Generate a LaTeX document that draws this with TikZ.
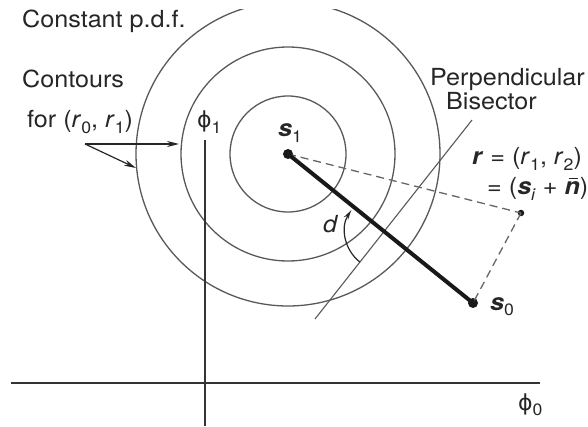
\documentclass[tikz,border=0pt]{standalone}
\usepackage{fontspec}
\setmainfont{TeX Gyre Heros}[FakeStretch=1.07]
\newfontfamily\phifont{DejaVu Sans}
\usetikzlibrary{arrows.meta,calc}
\newcommand\lsub[1]{\raisebox{-0.25em}{\fontsize{16.5}{16.5}\selectfont #1}}
\newcommand\nbar{\makebox[0pt][l]{\hspace{0.17em}\raisebox{0.66em}{\rule{0.42em}{1.3pt}}}\textbf{\textit{n}}}
\newcommand\myphi{{\phifont\fontsize{22}{22}\selectfont ϕ}}
\begin{document}
\begin{tikzpicture}[x=1pt,y=1pt,
  lbl/.style={anchor=base west,inner sep=0pt,text=black!85,font=\fontsize{23.5}{25}\selectfont},
  contour/.style={draw=black!65,line width=1.3pt},
  axis/.style={draw=black!80,line width=2pt},
  dashline/.style={draw=black!60,line width=1.3pt,dash pattern=on 8pt off 5pt},
  ptr/.style={draw=black!85,line width=1.2pt,-{Stealth[length=12pt,width=6pt]}},
  dotbig/.style={circle,fill=black!90,inner sep=0pt,minimum size=10pt},
  dotsmall/.style={circle,fill=black!90,inner sep=0pt,minimum size=6.5pt}]
\useasboundingbox (0,0) rectangle (588,426);
\fill[white] (0,0) rectangle (588,426);
% coordinates
\coordinate (c) at (288,272);
\coordinate (x0) at (11,43);
\coordinate (x1) at (540,43);
\coordinate (y0) at (205,0);
\coordinate (y1) at (205,286);
\coordinate (b0) at (472,306);
\coordinate (b1) at (315,107);
\coordinate (m) at (384,194.6);
\coordinate (fs) at (85,282);
\coordinate (fe1) at (179,282);
\coordinate (fe2) at (136,258);
% contours
\begin{scope}
\clip (0,0) rectangle (588,416);
\draw[contour] (c) circle[radius=58];
\draw[contour] (c) circle[radius=107];
\draw[contour] (c) circle[radius=152];
\end{scope}
% axes
\draw[axis] (x0) -- (x1);
\draw[axis] (y0) -- (y1);
% bisector
\draw[contour,line width=1.1pt] (b0) -- (b1);
% points
\node[dotbig] (s1) at (288,272) {};
\node[dotbig] (s0) at (473,123) {};
\node[dotsmall] (r) at (521,213) {};
\draw[dashline] (s1.center) -- (r.center);
\draw[dashline] (r.center) -- (s0.center);
\draw[black!90,line width=4pt] (s1.center) -- (s0.center);
% angle arc
\draw[draw=black!85,line width=1.2pt,-{Stealth[length=10pt,width=5pt]}] ($(m)+(232:39)$) arc[start angle=232,end angle=147,radius=39];
% pointer arrows
\draw[ptr] (fs) -- (fe1);
\draw[ptr] (fs) -- (fe2);
% labels
\node[lbl] (t1) at (22,398) {Constant p.d.f.};
\node[lbl] (t2) at (22,338) {Contours};
\node[lbl] (t3) at (27,298) {for (\textit{r}\lsub{0}, \textit{r}\lsub{1})};
\node[lbl] (phi1) at (197,298) {\myphi\lsub{1}};
\node[lbl] (ls1) at (278,289) {\textbf{\textit{s}}\lsub{1}};
\node[lbl] (pb1) at (430,340) {Perpendicular};
\node[lbl] (pb2) at (446,316) {Bisector};
\node[lbl] (req1) at (472,261) {\textbf{\textit{r}} = (\textit{r}\lsub{1}, \textit{r}\lsub{2})};
\node[lbl] (req2) at (487,231) {= (\textbf{\textit{s}}\lsub{\textit{i}} + \nbar)};
\node[lbl] (ld) at (323,194) {\textit{d}};
\node[lbl] (ls0) at (490,116) {\textbf{\textit{s}}\lsub{0}};
\node[lbl] (phi0) at (518,16) {\myphi\lsub{0}};
\end{tikzpicture}
\end{document}
